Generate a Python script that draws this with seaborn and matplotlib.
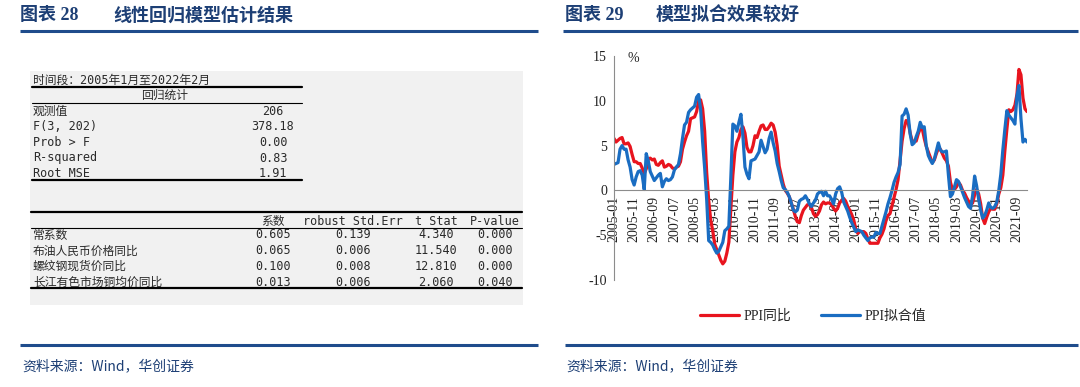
import matplotlib
matplotlib.use("Agg")
import matplotlib.pyplot as plt
import pandas as pd
import seaborn as sns
from matplotlib.patches import Rectangle

sns.set_theme(style="white")
plt.rcParams["font.family"] = ["Liberation Serif", "Noto Sans CJK SC"]
plt.rcParams["axes.unicode_minus"] = False

# ---- data -----------------------------------------------------------------
months = pd.date_range("2005-01-01", "2022-02-01", freq="MS")
tick_labels = [d.strftime("%Y-%m") for d in months[::10]]

ppi_yoy = [
    5.8, 5.4, 5.6, 5.8, 5.9, 5.2, 5.2, 5.3, 4.9, 4.0, 3.2, 3.2,          # 2005
    3.0, 3.0, 2.5, 1.9, 2.4, 3.5, 3.6, 3.4, 3.5, 2.9, 2.8, 3.1,          # 2006
    3.3, 2.6, 2.7, 2.9, 2.8, 2.5, 2.4, 2.6, 2.7, 3.2, 4.6, 5.4,          # 2007
    6.1, 6.6, 8.0, 8.1, 8.2, 8.8, 10.0, 10.1, 9.1, 6.6, 2.0, -1.1,       # 2008
    -3.3, -4.5, -6.0, -6.6, -7.2, -7.8, -8.2, -7.9, -7.0, -5.8, -2.1, 1.7,  # 2009
    4.3, 5.4, 5.9, 6.8, 7.1, 6.4, 4.8, 4.3, 4.3, 5.0, 6.1, 5.9,          # 2010
    6.6, 7.2, 7.3, 6.8, 6.8, 7.1, 7.5, 7.3, 6.5, 5.0, 2.7, 1.7,          # 2011
    0.7, 0.0, -0.3, -0.7, -1.4, -2.1, -2.9, -3.5, -3.6, -2.8, -2.2, -1.9,  # 2012
    -1.6, -1.6, -1.9, -2.6, -2.9, -2.7, -2.3, -1.6, -1.3, -1.5, -1.4, -1.4,  # 2013
    -1.6, -2.0, -2.3, -2.0, -1.4, -1.1, -0.9, -1.2, -1.8, -2.2, -2.7, -3.3,  # 2014
    -4.3, -4.8, -4.6, -4.6, -4.6, -4.8, -5.4, -5.9, -5.9, -5.9, -5.9, -5.9,  # 2015
    -5.3, -4.9, -4.3, -3.4, -2.8, -2.6, -1.7, -0.8, 0.1, 1.2, 3.3, 5.5,  # 2016
    6.9, 7.8, 7.6, 6.4, 5.5, 5.5, 5.5, 6.3, 6.9, 6.9, 5.8, 4.9,          # 2017
    4.3, 3.7, 3.1, 3.4, 4.1, 4.7, 4.6, 4.1, 3.6, 3.3, 2.7, 0.9,          # 2018
    0.1, 0.1, 0.4, 0.9, 0.6, 0.0, -0.3, -0.8, -1.2, -1.6, -1.4, -0.5,    # 2019
    0.1, -0.4, -1.5, -3.1, -3.7, -3.0, -2.4, -2.0, -2.1, -2.1, -1.5, -0.4,  # 2020
    0.3, 1.7, 4.4, 6.8, 9.0, 8.8, 9.0, 9.5, 10.7, 13.5, 12.9, 10.3,      # 2021
    9.1, 8.8,                                                            # 2022
]

ppi_fitted = [
    2.9, 3.0, 3.1, 4.6, 5.0, 4.6, 4.6, 3.4, 2.6, 1.2, 0.6, 1.5,          # 2005
    2.1, 2.2, 1.7, 0.1, 4.1, 3.3, 2.1, 1.6, 1.1, 1.4, 1.7, 1.9,          # 2006
    0.4, 1.0, 1.3, 1.1, 1.2, 1.5, 2.3, 2.6, 2.9, 4.1, 5.8, 7.3,          # 2007
    7.6, 8.7, 9.0, 9.2, 9.4, 10.4, 10.7, 9.0, 5.4, 2.5, -1.0, -5.6,      # 2008
    -5.8, -6.1, -6.6, -7.0, -6.8, -6.3, -5.8, -4.5, -4.3, -4.0, 1.5, 7.4,  # 2009
    7.2, 6.6, 7.6, 8.5, 6.0, 2.6, 1.8, 1.3, 3.3, 3.4, 3.5, 3.9,          # 2010
    4.3, 5.6, 4.9, 4.2, 4.6, 5.8, 6.5, 5.3, 4.4, 3.0, 2.1, 1.1,          # 2011
    0.3, 0.1, -0.2, -0.7, -1.4, -2.2, -2.4, -2.2, -1.2, -1.0, -0.9, -0.6,  # 2012
    -1.0, -1.5, -1.8, -1.4, -1.1, -0.4, -0.2, -0.1, -0.6, -0.1, -0.6, -0.6,  # 2013
    -1.0, -1.5, -0.4, 0.2, 0.4, -0.2, -1.3, -1.8, -2.3, -3.0, -3.6, -4.1,  # 2014
    -4.6, -4.4, -4.5, -4.6, -5.0, -5.3, -5.6, -5.3, -5.2, -5.2, -4.7, -4.8,  # 2015
    -4.8, -4.0, -3.2, -2.4, -1.5, -0.8, 0.0, 0.9, 1.5, 2.0, 2.9, 8.3,    # 2016
    8.5, 9.1, 8.4, 6.3, 5.1, 5.3, 6.0, 6.6, 7.6, 7.0, 7.1, 5.0,          # 2017
    3.9, 3.4, 3.0, 3.5, 4.4, 5.3, 4.5, 4.3, 4.3, 4.4, 1.7, -0.7,         # 2018
    -0.4, 0.4, 1.2, 1.0, 0.4, -0.2, -0.8, -1.3, -1.8, -2.0, -0.6, 1.6,   # 2019
    0.5, -1.0, -2.2, -3.1, -2.8, -2.2, -1.4, -1.9, -2.0, -1.8, -1.3, 0.0,  # 2020
    1.8, 4.5, 6.8, 8.9, 8.4, 8.1, 7.8, 7.4, 10.5, 11.7, 8.0, 5.4,        # 2021
    5.7, 5.4,                                                            # 2022
]

series_names = ["PPI同比", "PPI拟合值"]
series_colors = ["#E8141E", "#1A6DC2"]

period_text = "时间段：2005年1月至2022年2月"
stat_title = "回归统计"
stat_names = ["观测值", "F(3, 202)", "Prob > F", "R-squared", "Root MSE"]
stat_values = ["206", "378.18", "0.00", "0.83", "1.91"]

coef_headers = ["系数", "robust Std.Err", "t Stat", "P-value"]
coef_rows = ["常系数", "布油人民币价格同比", "螺纹钢现货价同比", "长江有色市场铜均价同比"]
coef_values = ["0.605", "0.065", "0.100", "0.013"]
std_errs = ["0.139", "0.006", "0.008", "0.006"]
t_stats = ["4.340", "11.540", "12.810", "2.060"]
p_values = ["0.000", "0.000", "0.000", "0.040"]

# ---- figure ---------------------------------------------------------------
NAVY = "#1D3F75"
RULE = "#1F4C8C"
CJK = ["Noto Sans CJK SC", "DejaVu Sans"]
SERIF_CJK = ["Liberation Serif", "Noto Sans CJK SC"]
MONO = ["DejaVu Sans Mono", "Noto Sans CJK SC"]

fig = plt.figure(figsize=(10.8, 3.87), dpi=100)
fig.patch.set_facecolor("white")

# overlay in pixel coordinates for titles, rules and the regression table
bg = fig.add_axes([0, 0, 1, 1])
bg.set_xlim(0, 1080)
bg.set_ylim(387, 0)
bg.axis("off")

for x0, num, title, x1 in [(20, "图表 28", "线性回归模型估计结果", 113),
                           (565, "图表 29", "模型拟合效果较好", 656)]:
    bg.text(x0, 15, num, family=SERIF_CJK, fontsize=13, fontweight="bold",
            color=NAVY, va="center")
    bg.text(x1, 15, title, family=CJK, fontsize=13, fontweight="bold",
            color=NAVY, va="center")

bg.plot([20, 538], [31, 31], color=RULE, lw=2.2, solid_capstyle="butt")
bg.plot([563, 1078], [31, 31], color=RULE, lw=2.2, solid_capstyle="butt")
bg.plot([20, 538], [345, 345], color=RULE, lw=2.2, solid_capstyle="butt")
bg.plot([565, 1078], [345, 345], color=RULE, lw=2.2, solid_capstyle="butt")

for x0 in (22, 566):
    bg.text(x0, 366, "资料来源：Wind，华创证券", family=CJK, fontsize=10,
            color=NAVY, va="center")

# table panel
bg.add_patch(Rectangle((30, 71), 493, 234, facecolor="#F1F1F1",
                       edgecolor="none", zorder=0))
TXT = "#2a2a2a"
bg.text(33, 80, period_text, family=MONO, fontsize=8.5, color=TXT, va="center")
bg.plot([32, 302], [87, 87], color="black", lw=1.6)
bg.text(165, 95, stat_title, family=CJK, fontsize=8.5, color=TXT,
        va="center", ha="center")
bg.plot([32, 302], [103, 103], color="black", lw=0.8)
for i, (name, val) in enumerate(zip(stat_names, stat_values)):
    y = 111.5 + i * 15.5
    bg.text(33, y, name, family=MONO, fontsize=8.5, color=TXT, va="center")
    bg.text(273, y, val, family=MONO, fontsize=8.5, color=TXT,
            va="center", ha="center")
bg.plot([32, 302], [179.5, 179.5], color="black", lw=1.6)

col_x = [273, 353, 436, 495]
bg.plot([31, 522], [212, 212], color="black", lw=1.6)
for x, h in zip(col_x, coef_headers):
    bg.text(x, 221.5, h, family=MONO, fontsize=8.5, color=TXT,
            va="center", ha="center")
bg.plot([31, 522], [227.5, 227.5], color="black", lw=0.8)
for i, row in enumerate(coef_rows):
    y = 235 + i * 15.8
    bg.text(33, y, row, family=MONO, fontsize=8.5, color=TXT, va="center")
    cells = [coef_values[i], std_errs[i], t_stats[i], p_values[i]]
    for x, c in zip(col_x, cells):
        bg.text(x, y, c, family=MONO, fontsize=8.5, color=TXT,
                va="center", ha="center")
bg.plot([31, 522], [288, 288], color="black", lw=1.6)

# ---- line chart -------------------------------------------------------------
ax = fig.add_axes([614 / 1080, 1 - 280 / 387, 413 / 1080, 224 / 387])
ax.patch.set_alpha(0)

df = pd.DataFrame({
    "idx": list(range(len(months))) * 2,
    "value": ppi_yoy + ppi_fitted,
    "series": [series_names[0]] * len(ppi_yoy) + [series_names[1]] * len(ppi_fitted),
})
sns.lineplot(data=df, x="idx", y="value", hue="series", palette=series_colors,
             hue_order=series_names, linewidth=2.3, ax=ax)

# spine position first: moving a spine resets the tick labels
for side in ("top", "right"):
    ax.spines[side].set_visible(False)
ax.spines["bottom"].set_position(("data", 0))
ax.spines["left"].set_color("#8c8c8c")
ax.spines["bottom"].set_color("#8c8c8c")
ax.spines["left"].set_linewidth(0.8)
ax.spines["bottom"].set_linewidth(0.8)
ax.set_axisbelow(True)

ax.set_xlim(0, len(months) - 1)
ax.set_ylim(-10, 15)
ax.set_yticks([-10, -5, 0, 5, 10, 15])
ax.set_xticks(range(0, len(months), 10))
ax.set_xticklabels(tick_labels, rotation=90, va="top", ha="center")
ax.set_xlabel("")
ax.set_ylabel("")

ax.tick_params(axis="both", direction="out", length=3, width=0.8,
               color="#8c8c8c", labelsize=10, labelcolor="#222222", pad=2)
ax.tick_params(axis="x", pad=1)

fig.text(628 / 1080, 1 - 58 / 387, "%", fontsize=10, color="#222222",
         va="center")

ax.legend(loc="center", bbox_to_anchor=(813 / 1080, 1 - 316 / 387),
          bbox_transform=fig.transFigure, ncol=2, frameon=False,
          handlelength=2.8, columnspacing=2.2, handletextpad=0.3,
          prop={"family": SERIF_CJK, "size": 10})

fig.savefig("out.png", dpi=100, facecolor="white")
